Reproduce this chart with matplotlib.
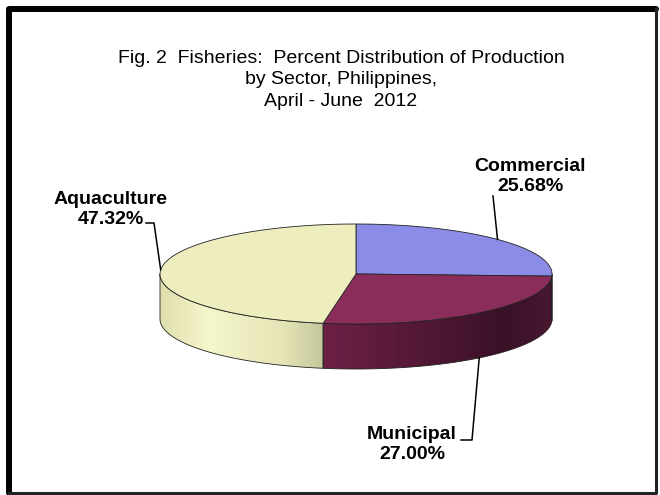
"""Fig. 2 Fisheries: percent distribution of production by sector (3-D style pie)"""
import numpy as np
import matplotlib
matplotlib.use('Agg')
import matplotlib.pyplot as plt
from matplotlib.patches import Polygon
from matplotlib.colors import to_rgb

sectors = ['Commercial', 'Municipal', 'Aquaculture']
shares = [25.68, 27.00, 47.32]
top_colors = ['#8b8be8', '#8b2d5a', '#ededbd']
title = 'Fig. 2  Fisheries:  Percent Distribution of Production\nby Sector, Philippines,\nApril - June  2012'

plt.rcParams['font.family'] = ['Liberation Sans', 'DejaVu Sans']

# pie geometry in pixel space
cx, cy = 356, 274
a, b = 196, 50
depth = 45

fig = plt.figure(figsize=(6.6, 4.95), dpi=100)
ax = fig.add_axes([0, 0, 1, 1])
ax.set_xlim(0, 660)
ax.set_ylim(495, 0)
ax.axis('off')


def ell(t, dy=0.0):
    t = np.radians(t)
    return cx + a*np.cos(t), cy - b*np.sin(t) + dy


# slice angles, clockwise from 12 o'clock
fr = np.array(shares)/np.sum(shares)
starts = 90 - 360*np.concatenate([[0], np.cumsum(fr)[:-1]])
ends = starts - 360*fr
mids = (starts + ends)/2

# side gradients (left -> right)
side_stops = {
    0: [(0.0, '#6a6ab8'), (1.0, '#5a5aa0')],
    1: [(0.0, '#6e2046'), (0.8, '#3a1126'), (1.0, '#4a1731')],
    2: [(0.0, '#dedeae'), (0.3, '#f6f6cc'), (0.75, '#e4e4b6'), (1.0, '#c6c69c')],
}


def gradient(stops, n=200):
    xs = np.linspace(0, 1, n)
    pos = [s[0] for s in stops]
    cols = np.array([to_rgb(s[1]) for s in stops])
    img = np.stack([np.interp(xs, pos, cols[:, k]) for k in range(3)], axis=-1)
    return img[np.newaxis, :, :]


# sides: only the front half (angles between -180 and 0)
for i in range(len(shares)):
    lo, hi = max(ends[i], -180), min(starts[i], 0)
    if lo >= hi:
        continue
    t = np.linspace(hi, lo, 80)
    xt, yt = ell(t)
    xb, yb = ell(t[::-1], depth)
    pts = np.column_stack([np.concatenate([xt, xb]), np.concatenate([yt, yb])])
    poly = Polygon(pts, closed=True, facecolor='none', edgecolor='#222222', lw=0.6, zorder=3)
    ax.add_patch(poly)
    im = ax.imshow(gradient(side_stops[i]), extent=[pts[:, 0].min(), pts[:, 0].max(),
                   pts[:, 1].max(), pts[:, 1].min()], aspect='auto', zorder=2, interpolation='bilinear')
    im.set_clip_path(poly)

# top faces
for i in range(len(shares)):
    t = np.linspace(starts[i], ends[i], 120)
    xt, yt = ell(t)
    pts = np.column_stack([np.concatenate([[cx], xt]), np.concatenate([[cy], yt])])
    ax.add_patch(Polygon(pts, closed=True, facecolor=top_colors[i], edgecolor='#222222',
                         lw=0.6, zorder=4))

ax.set_xlim(0, 660)
ax.set_ylim(495, 0)

# labels
lab_font = dict(fontsize=14, fontweight='bold', ha='center', va='center', color='black')
label_pos = {0: (530, 176.5), 1: (412, 444.5), 2: (111, 209.5)}
for i, name in enumerate(sectors):
    lx, ly = label_pos[i]
    ax.text(lx, ly, '%s\n%.2f%%' % (name, shares[i]), linespacing=1.25, zorder=6, **lab_font)

# leader lines to slice mid-angles
px, py = ell(mids[0])
ax.plot([493, px], [196, py], color='black', lw=1.1, zorder=5)
px, py = ell(mids[1], depth)
ax.plot([461, 472, px], [440, 440, py], color='black', lw=1.1, zorder=5)
px, py = ell(mids[2])
ax.plot([146, 154, px], [223, 223, py], color='black', lw=1.1, zorder=5)

ax.text(341, 80, title, fontsize=14, ha='center', va='center', linespacing=1.32)

# chart frame
ax.plot([9, 9, 656], [493, 9, 9], color='black', lw=4.3, solid_capstyle='round',
        solid_joinstyle='round', zorder=7)
ax.plot([656, 656, 9], [9, 493, 493], color='#222222', lw=2.2, zorder=7)

fig.savefig('out.png', dpi=100)
